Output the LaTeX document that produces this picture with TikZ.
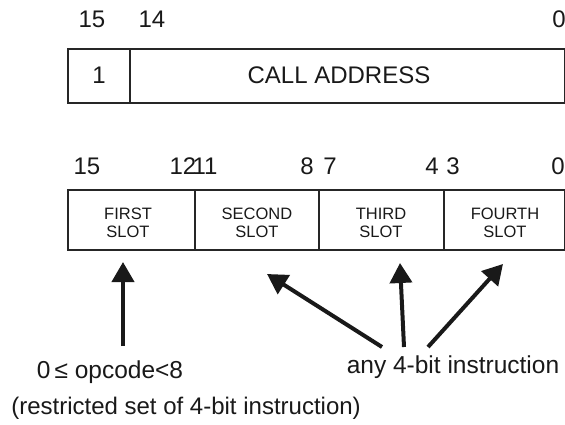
\documentclass[tikz,border=0pt]{standalone}
\usepackage{fontspec}
\setmainfont{Liberation Sans}
\usetikzlibrary{arrows.meta}
\begin{document}
\begin{tikzpicture}[x=1pt,y=-1pt,
  field/.style={draw=black!85, line width=1.3pt},
  bitnum/.style={font=\fontsize{24}{26}\selectfont, text=black!90, inner sep=0pt},
  bigtxt/.style={font=\fontsize{24}{26}\selectfont, text=black!90, inner sep=0pt},
  slottxt/.style={font=\fontsize{16.5}{18}\selectfont, text=black!90, align=center, inner sep=0pt},
  note/.style={font=\fontsize{24.5}{26}\selectfont, text=black!90, inner sep=0pt},
  bigarrow/.style={draw=black!90, line width=4pt, -{Triangle[width=22pt,length=20pt]}}]
\useasboundingbox (0,0) rectangle (565,425);
% top word
\draw[field] (68,49) rectangle (564.5,103);
\draw[field] (130,49) -- (130,103);
\node[bitnum] (t15) at (92,19) {15};
\node[bitnum] (t14) at (152,19) {14};
\node[bitnum] (t0) at (559,19) {0};
\node[bigtxt] (one) at (99,75) {1};
\node[bigtxt] (call) at (339,75) {CALL ADDRESS};
% bottom word
\draw[field] (68,190) rectangle (564.5,250);
\draw[field] (195,190) -- (195,250);
\draw[field] (319,190) -- (319,250);
\draw[field] (444,190) -- (444,250);
\node[bitnum] (b15) at (87,166) {15};
\node[bitnum] (b12) at (183,166) {12};
\node[bitnum] (b11) at (205,166) {11};
\node[bitnum] (b8) at (307,166) {8};
\node[bitnum] (b7) at (330,166) {7};
\node[bitnum] (b4) at (432,166) {4};
\node[bitnum] (b3) at (453,166) {3};
\node[bitnum] (b0) at (558,166) {0};
\node[slottxt] (s1) at (128,223) {FIRST\\SLOT};
\node[slottxt] (s2) at (257,223) {SECOND\\SLOT};
\node[slottxt] (s3) at (381,223) {THIRD\\SLOT};
\node[slottxt] (s4) at (505,223) {FOURTH\\SLOT};
% notes
\node[note] (op) at (110,372) {0\,≤ opcode<8};
\node[note, font=\fontsize{24}{26}\selectfont] (restr) at (186,408) {(restricted set of 4-bit instruction)};
\node[note] (any) at (453,367) {any 4-bit instruction};
% arrow ends
\coordinate (a1t) at (123,346);
\coordinate (a1h) at (123,262);
\coordinate (a2t) at (382,347);
\coordinate (a2h) at (267,274);
\coordinate (a3t) at (404,347);
\coordinate (a3h) at (400,263);
\coordinate (a4t) at (428,347);
\coordinate (a4h) at (503,264);
\draw[bigarrow] (a1t) -- (a1h);
\draw[bigarrow] (a2t) -- (a2h);
\draw[bigarrow] (a3t) -- (a3h);
\draw[bigarrow] (a4t) -- (a4h);
\end{tikzpicture}
\end{document}
